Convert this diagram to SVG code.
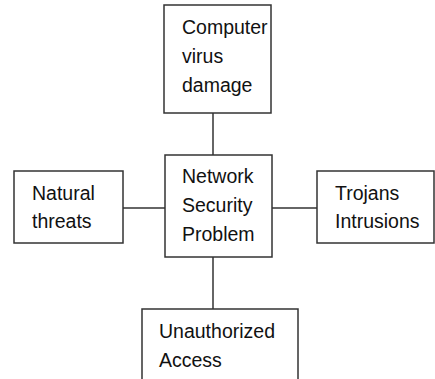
<svg xmlns="http://www.w3.org/2000/svg" width="435" height="379" viewBox="0 0 435 379">
<style>
.box{fill:#fff;stroke:#333;stroke-width:1.5}
.ln{stroke:#333;stroke-width:1.5;fill:none}
text{font-family:"Liberation Sans",Arial,sans-serif;font-size:19.5px;fill:#111}
</style>
<rect width="435" height="379" fill="#fff"/>
<g id="connectors">
<line class="ln" x1="213" y1="113" x2="213" y2="155"/>
<line class="ln" x1="123" y1="208" x2="165" y2="208"/>
<line class="ln" x1="272" y1="208" x2="317" y2="208"/>
<line class="ln" x1="213" y1="257" x2="213" y2="309"/>
</g>
<g id="top">
<rect class="box" x="164" y="5" width="107" height="108"/>
<text x="182" y="34">Computer</text>
<text x="182" y="63">virus</text>
<text x="182" y="92">damage</text>
</g>
<g id="center">
<rect class="box" x="165" y="155" width="107" height="102"/>
<text x="182" y="183">Network</text>
<text x="182" y="212">Security</text>
<text x="182" y="241">Problem</text>
</g>
<g id="left">
<rect class="box" x="14" y="171" width="109" height="72"/>
<text x="32" y="200">Natural</text>
<text x="32" y="228">threats</text>
</g>
<g id="right">
<rect class="box" x="317" y="171" width="117" height="72"/>
<text x="335" y="200">Trojans</text>
<text x="335" y="228">Intrusions</text>
</g>
<g id="bottom">
<rect class="box" x="142" y="309" width="156" height="80"/>
<text x="159" y="338">Unauthorized</text>
<text x="159" y="367">Access</text>
</g>
</svg>
